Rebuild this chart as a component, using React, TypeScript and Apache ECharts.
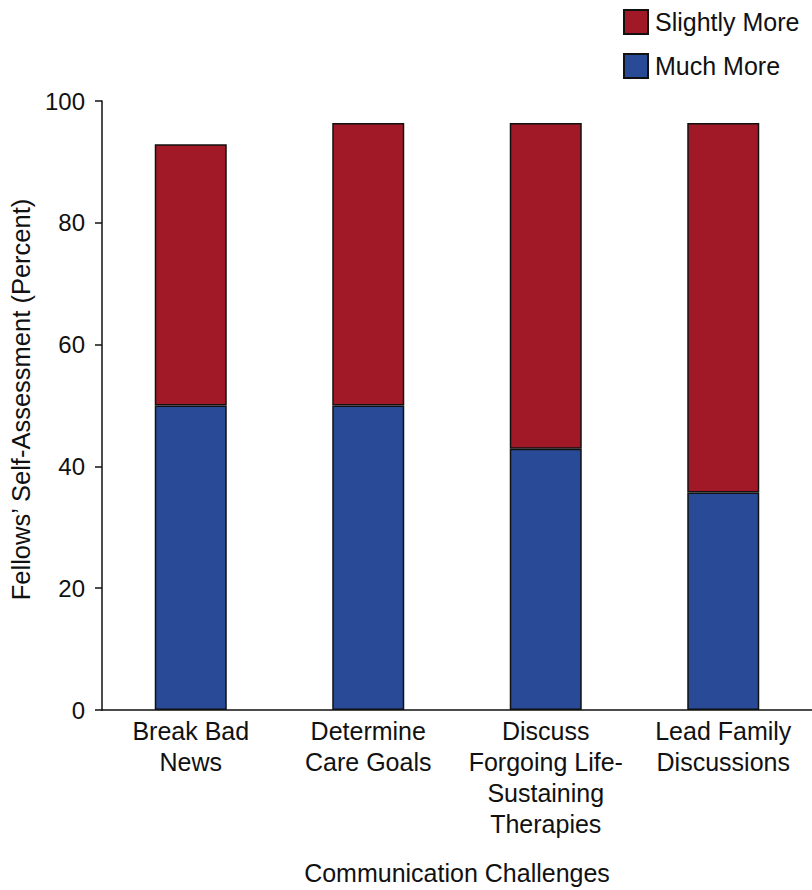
import React, { useEffect, useRef } from "react";
import * as echarts from "echarts";

const categories = [
  "Break Bad\nNews",
  "Determine\nCare Goals",
  "Discuss\nForgoing Life-\nSustaining\nTherapies",
  "Lead Family\nDiscussions",
];
const muchMore = [50, 50, 42.9, 35.7];
const slightlyMore = [42.9, 46.4, 53.5, 60.7];
const yTicks = [0, 20, 40, 60, 80, 100];

const RED = "#A11926";
const BLUE = "#284A97";
const FONT = "'Liberation Sans', Arial, Helvetica, sans-serif";

export default function App() {
  const ref = useRef<HTMLDivElement>(null);
  useEffect(() => {
    document.body.style.margin = "0";
    if (!ref.current) return;
    const chart = echarts.init(ref.current, undefined, { renderer: "svg" });
    chart.setOption({
      animation: false,
      backgroundColor: "#ffffff",
      textStyle: { fontFamily: FONT, color: "#111" },
      legend: {
        orient: "vertical",
        left: 618,
        top: 4,
        itemWidth: 24,
        itemHeight: 24,
        itemGap: 18,
        icon: "rect",
        data: ["Slightly More", "Much More"],
        textStyle: { fontSize: 25, color: "#111", fontFamily: FONT, padding: [0, 0, 0, 2] },
      },
      grid: { left: 97, top: 101, width: 717, bottom: 173, containLabel: false },
      xAxis: {
        type: "category",
        data: categories,
        name: "Communication Challenges",
        nameLocation: "middle",
        nameGap: 150,
        nameTextStyle: { fontSize: 25, color: "#111", fontFamily: FONT },
        axisLine: { show: true, lineStyle: { color: "#111", width: 1.5 } },
        axisTick: { show: false },
        axisLabel: {
          interval: 0,
          fontSize: 25,
          lineHeight: 31,
          color: "#111",
          margin: 5,
          fontFamily: FONT,
        },
      },
      yAxis: {
        type: "value",
        min: yTicks[0],
        max: yTicks[yTicks.length - 1],
        interval: 20,
        name: "Fellows\u2019 Self-Assessment (Percent)",
        nameLocation: "middle",
        nameGap: 68,
        nameTextStyle: { fontSize: 25.5, color: "#111", fontFamily: FONT, padding: [0, 0, 0, 12] },
        axisLine: { show: true, lineStyle: { color: "#111", width: 1.5 } },
        axisTick: { show: true, length: 7, lineStyle: { color: "#111", width: 1.5 } },
        axisLabel: { fontSize: 24, color: "#111", margin: 17, fontFamily: FONT },
        splitLine: { show: false },
      },
      series: [
        {
          name: "Much More",
          type: "bar",
          stack: "total",
          barWidth: 72,
          data: muchMore,
          itemStyle: { color: BLUE, borderColor: "#111", borderWidth: 1.5 },
        },
        {
          name: "Slightly More",
          type: "bar",
          stack: "total",
          barWidth: 72,
          data: slightlyMore,
          itemStyle: { color: RED, borderColor: "#111", borderWidth: 1.5 },
        },
      ],
    });
    return () => chart.dispose();
  }, []);
  return <div ref={ref} style={{ width: 812, height: 890, position: "absolute", left: 0, top: 0 }} />;
}
